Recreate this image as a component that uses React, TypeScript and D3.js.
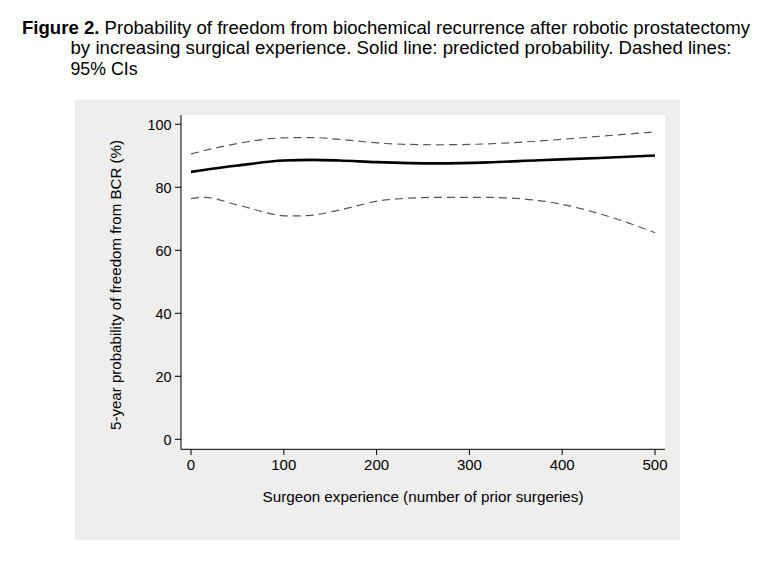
import React from "react";
import * as d3 from "d3";

const xTicks = [0, 100, 200, 300, 400, 500];
const yTicks = [0, 20, 40, 60, 80, 100];

const predX = [0, 50, 100, 130, 160, 200, 265, 320, 375, 440, 500];
const predY = [84.9, 86.9, 88.5, 88.7, 88.5, 88.0, 87.6, 87.9, 88.6, 89.3, 90.1];

const upperX = [0, 50, 100, 130, 160, 210, 265, 320, 375, 445, 500];
const upperY = [90.6, 93.9, 95.7, 95.8, 95.2, 93.9, 93.5, 93.8, 94.7, 96.3, 97.6];

const lowerX = [0, 15, 50, 105, 125, 160, 210, 265, 320, 375, 445, 500];
const lowerY = [76.4, 76.8, 74.4, 70.9, 71.0, 72.8, 76.0, 76.8, 76.8, 75.8, 71.2, 65.6];

const titleLines = [
  "Probability of freedom from biochemical recurrence after robotic prostatectomy",
  "by increasing surgical experience. Solid line: predicted probability. Dashed lines:",
  "95% CIs",
];

export default function App() {
  const x = d3.scaleLinear().domain([0, 500]).range([191, 655]);
  const y = d3.scaleLinear().domain([0, 100]).range([439.3, 124.3]);
  const line = d3
    .line<[number, number]>()
    .x((d) => x(d[0]))
    .y((d) => y(d[1]))
    .curve(d3.curveMonotoneX);
  const zip = (a: number[], b: number[]) => a.map((v, i) => [v, b[i]] as [number, number]);
  const font = "'Liberation Sans', Arial, Helvetica, sans-serif";

  return (
    <svg
      width={768}
      height={575}
      style={{ position: "absolute", left: 0, top: 0, background: "#fff" }}
      fontFamily={font}
    >
      {/* Title */}
      <text x={22} y={33.5} fontSize={17.5} fill="#000" textLength={728} lengthAdjust="spacingAndGlyphs">
        <tspan fontWeight="bold">Figure 2.</tspan> {titleLines[0]}
      </text>
      <text x={70.5} y={54} fontSize={17.5} fill="#000" textLength={661} lengthAdjust="spacingAndGlyphs">
        {titleLines[1]}
      </text>
      <text x={70.5} y={74.5} fontSize={17.5} fill="#000" textLength={67} lengthAdjust="spacingAndGlyphs">
        {titleLines[2]}
      </text>

      {/* Gray panel */}
      <rect x={75} y={99.5} width={605} height={440.5} fill="#eeeeee" />
      {/* Plot area */}
      <rect x={181} y={115} width={484} height={334.3} fill="#ffffff" />

      {/* Axes */}
      <line x1={181} x2={181} y1={115} y2={449.3} stroke="#000" strokeWidth={1} />
      <line x1={181} x2={665} y1={449.3} y2={449.3} stroke="#000" strokeWidth={1} />

      {yTicks.map((t) => (
        <g key={"y" + t}>
          <line x1={175} x2={181} y1={y(t)} y2={y(t)} stroke="#000" strokeWidth={1} />
          <text x={171.5} y={y(t) + 5.8} fontSize={15} textAnchor="end" fill="#000" transform={`translate(${171.5 * 0.04},0) scale(0.96,1)`}>
            {t}
          </text>
        </g>
      ))}
      {xTicks.map((t) => (
        <g key={"x" + t}>
          <line x1={x(t)} x2={x(t)} y1={449.3} y2={455} stroke="#000" strokeWidth={1} />
          <text x={x(t)} y={469.5} fontSize={15} textAnchor="middle" fill="#000">
            {t}
          </text>
        </g>
      ))}

      <text x={423} y={502} fontSize={15.3} textAnchor="middle" fill="#000" textLength={321} lengthAdjust="spacingAndGlyphs">
        Surgeon experience (number of prior surgeries)
      </text>
      <text
        transform="translate(121,285) rotate(-90)"
        fontSize={15.3}
        textAnchor="middle"
        fill="#000"
        textLength={290}
        lengthAdjust="spacingAndGlyphs"
      >
        5-year probability of freedom from BCR (%)
      </text>

      {/* Lines */}
      <path d={line(zip(upperX, upperY)) || ""} fill="none" stroke="#555" strokeWidth={1.2} strokeDasharray="8,5" />
      <path d={line(zip(lowerX, lowerY)) || ""} fill="none" stroke="#555" strokeWidth={1.2} strokeDasharray="8,5" />
      <path d={line(zip(predX, predY)) || ""} fill="none" stroke="#000" strokeWidth={2.6} />
    </svg>
  );
}
